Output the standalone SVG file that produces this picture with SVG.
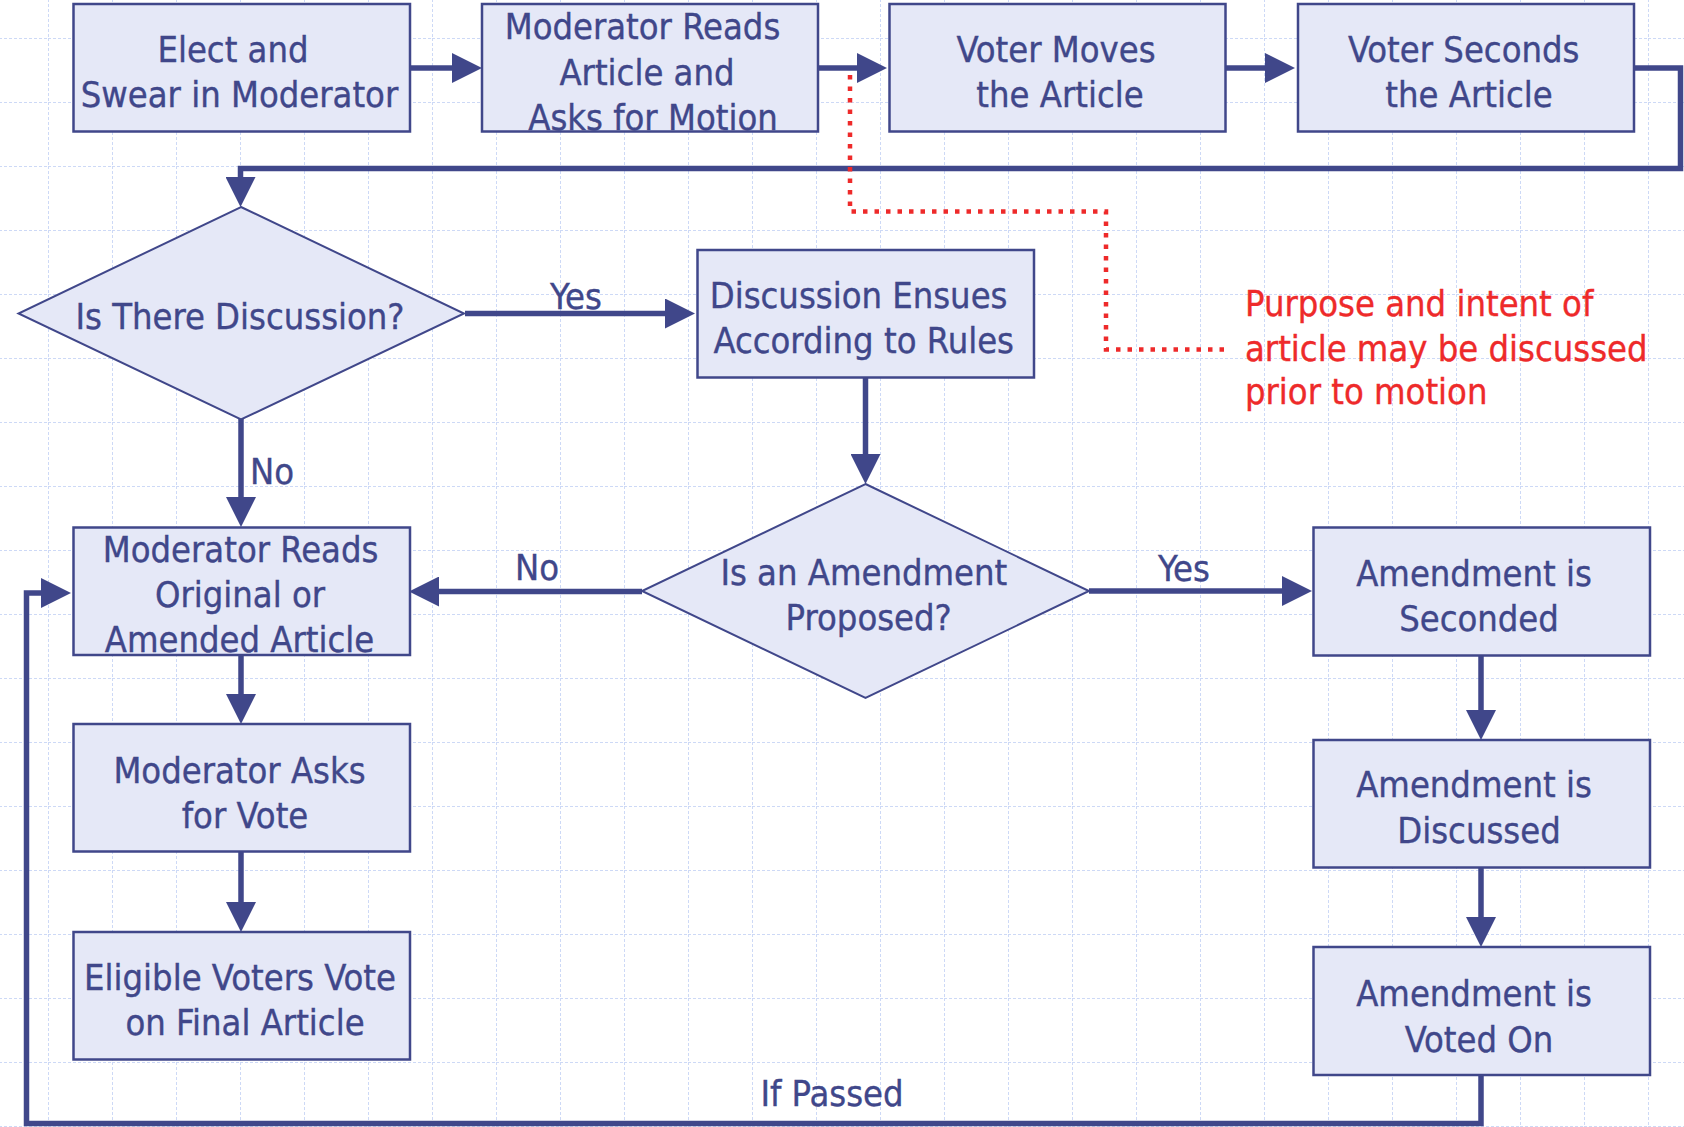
<svg xmlns="http://www.w3.org/2000/svg" width="1684" height="1127" viewBox="0 0 1684 1127">
<defs>
<pattern id="grid" x="48" y="38" width="64" height="64" patternUnits="userSpaceOnUse">
<line x1="0" y1="0" x2="64" y2="0" class="g"/>
<line x1="0" y1="0" x2="0" y2="64" class="g"/>
</pattern>
<marker id="ah" viewBox="0 0 30 30" markerWidth="30" markerHeight="30" refX="20" refY="15" orient="auto" markerUnits="userSpaceOnUse">
<path d="M0,0 L30,15 L0,30 z" fill="#40478a"/>
</marker>
<style>
.g{stroke:#cdd9f6;stroke-width:2;stroke-dasharray:3 2;fill:none}
.box{fill:#e5e8f7;stroke:#40478a;stroke-width:2.5}
.dia{fill:#e5e8f7;stroke:#40478a;stroke-width:2}
.t{font-family:'DejaVu Sans Condensed','DejaVu Sans',sans-serif;font-stretch:condensed;font-size:36px;fill:#40478a;stroke:#40478a;stroke-width:0.35;text-anchor:middle}
.ts{text-anchor:start}
.red{font-family:'DejaVu Sans Condensed','DejaVu Sans',sans-serif;font-stretch:condensed;font-size:36px;fill:#ee2a2a;stroke:#ee2a2a;stroke-width:0.35}
.c{fill:none;stroke:#40478a;stroke-width:5.5}
.ca{fill:none;stroke:#40478a;stroke-width:5.5;marker-end:url(#ah)}
.dot{fill:none;stroke:#ee2a2a;stroke-width:4.5;stroke-dasharray:4.5 7}
</style>
</defs>
<rect x="0" y="0" width="1684" height="1127" fill="#ffffff"/>
<rect x="0" y="0" width="1684" height="1127" fill="url(#grid)"/>

<g id="connectors">
<path class="ca" d="M410,68 L472,68"/>
<path class="ca" d="M818,68 L877,68"/>
<path class="ca" d="M1225,68 L1285,68"/>
<path class="ca" d="M1634,68 L1680.5,68 L1680.5,168.5 L240.5,168.5 L240.5,197"/>
<path class="ca" d="M465,313.5 L685,313.5"/>
<path class="ca" d="M865.5,377 L865.5,474"/>
<path class="ca" d="M241,419 L241,517"/>
<path class="ca" d="M642,591.5 L419,591.5"/>
<path class="ca" d="M1089,591 L1302,591"/>
<path class="ca" d="M241,654 L241,714"/>
<path class="ca" d="M241,851 L241,922"/>
<path class="ca" d="M1481,656 L1481,730"/>
<path class="ca" d="M1481,868 L1481,937"/>
<path class="ca" d="M1481,1075 L1481,1123.5 L26.5,1123.5 L26.5,593 L61,593"/>
<path class="dot" d="M850,75 L850,211.5 L1106,211.5 L1106,349.5 L1226,349.5"/>
<text class="t" x="576" y="309">Yes</text>
<text class="t ts" x="250" y="484">No</text>
<text class="t" x="537" y="580">No</text>
<text class="t" x="1184" y="580.7">Yes</text>
<text class="t" x="832" y="1106">If Passed</text>
</g>

<g id="n1"><rect class="box" x="73.5" y="4" width="336.5" height="127.5"/>
<text class="t" x="233" y="61.7">Elect and</text><text class="t" x="239.5" y="106.7">Swear in Moderator</text></g>
<g id="n2"><rect class="box" x="482" y="4" width="336" height="127.5"/>
<text class="t" x="642.5" y="39.3">Moderator Reads</text><text class="t" x="647" y="85">Article and</text><text class="t" x="653" y="130">Asks for Motion</text></g>
<g id="n3"><rect class="box" x="889.5" y="4" width="336" height="127.5"/>
<text class="t" x="1056" y="61.7">Voter Moves</text><text class="t" x="1060" y="106.7">the Article</text></g>
<g id="n4"><rect class="box" x="1298" y="4" width="336" height="127.5"/>
<text class="t" x="1463.7" y="61.7">Voter Seconds</text><text class="t" x="1469" y="106.7">the Article</text></g>
<g id="d1"><polygon class="dia" points="241,207 464,313.5 241,419.5 18.5,313.5"/>
<text class="t" x="240" y="329.3">Is There Discussion?</text></g>
<g id="n5"><rect class="box" x="697.5" y="250" width="336.5" height="127.5"/>
<text class="t" x="858.6" y="308.3">Discussion Ensues</text><text class="t" x="863.7" y="352.7">According to Rules</text></g>
<g id="d2"><polygon class="dia" points="865.5,484 1089,591 865.5,698 642,591"/>
<text class="t" x="863.8" y="585">Is an Amendment</text><text class="t" x="868.7" y="630">Proposed?</text></g>
<g id="n6"><rect class="box" x="73.5" y="527.5" width="336.5" height="127.5"/>
<text class="t" x="240.6" y="561.7">Moderator Reads</text><text class="t" x="240" y="606.7">Original or</text><text class="t" x="239.5" y="651.7">Amended Article</text></g>
<g id="n7"><rect class="box" x="73.5" y="724" width="336.5" height="127.5"/>
<text class="t" x="239.5" y="783">Moderator Asks</text><text class="t" x="245" y="828">for Vote</text></g>
<g id="n8"><rect class="box" x="73.5" y="932" width="336.5" height="127.5"/>
<text class="t" x="240" y="990">Eligible Voters Vote</text><text class="t" x="245" y="1035">on Final Article</text></g>
<g id="n9"><rect class="box" x="1313.5" y="527.5" width="336.5" height="128"/>
<text class="t" x="1474" y="585.7">Amendment is</text><text class="t" x="1479" y="630.7">Seconded</text></g>
<g id="n10"><rect class="box" x="1313.5" y="740" width="336.5" height="127.5"/>
<text class="t" x="1474" y="797.3">Amendment is</text><text class="t" x="1479" y="842.7">Discussed</text></g>
<g id="n11"><rect class="box" x="1313.5" y="947" width="336.5" height="128"/>
<text class="t" x="1474" y="1006">Amendment is</text><text class="t" x="1479" y="1051.7">Voted On</text></g>
<g id="note"><text class="red" x="1245" y="315.7">Purpose and intent of</text><text class="red" x="1245" y="360.7">article may be discussed</text><text class="red" x="1245" y="404">prior to motion</text></g>
</svg>
